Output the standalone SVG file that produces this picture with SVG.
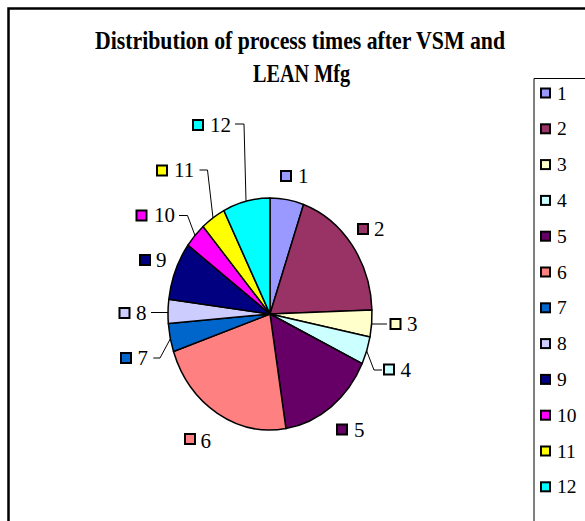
<svg xmlns="http://www.w3.org/2000/svg" width="585" height="521" viewBox="0 0 585 521">
  <style>
    .title { font-family: "Liberation Serif", "Times New Roman", serif; font-weight: bold; font-size: 25px; fill: #000; }
    .lbl { font-family: "Liberation Serif", "Times New Roman", serif; font-size: 21px; fill: #000; }
    .leg { font-family: "Liberation Serif", "Times New Roman", serif; font-size: 19.5px; fill: #000; }
    .slice { stroke: #000; stroke-width: 1.5; stroke-linejoin: round; }
    .key { stroke: #000; stroke-width: 2; }
    .leader { fill: none; stroke: #000; stroke-width: 1; }
    .frame { fill: none; stroke: #000; }
    .c1 { fill: #9999FF; } .c2 { fill: #993366; } .c3 { fill: #FFFFCC; } .c4 { fill: #CCFFFF; }
    .c5 { fill: #660066; } .c6 { fill: #FF8080; } .c7 { fill: #0066CC; } .c8 { fill: #CCCCFF; }
    .c9 { fill: #000080; } .c10 { fill: #FF00FF; } .c11 { fill: #FFFF00; } .c12 { fill: #00FFFF; }
  </style>

  <rect width="585" height="521" fill="#fff"/>

  <!-- chart area border -->
  <path class="frame" d="M8.5,521 V8.5 H585" stroke-width="2.5"/>

  <!-- title -->
  <g id="title">
    <text class="title" x="95" y="49" textLength="410" lengthAdjust="spacingAndGlyphs">Distribution of process times after VSM and</text>
    <text class="title" x="253" y="82" textLength="97" lengthAdjust="spacingAndGlyphs">LEAN Mfg</text>
  </g>

  <!-- pie: centre (270,314), radii 102 x 116 -->
  <g id="pie">
    <path id="slice-1" class="slice c1" d="M270,314 L270,198 A102,116 0 0 1 303.55,204.45 Z"/>
    <path id="slice-2" class="slice c2" d="M270,314 L303.55,204.45 A102,116 0 0 1 371.94,309.95 Z"/>
    <path id="slice-3" class="slice c3" d="M270,314 L371.94,309.95 A102,116 0 0 1 369.99,336.93 Z"/>
    <path id="slice-4" class="slice c4" d="M270,314 L369.99,336.93 A102,116 0 0 1 362.22,363.57 Z"/>
    <path id="slice-5" class="slice c5" d="M270,314 L362.22,363.57 A102,116 0 0 1 285.96,428.57 Z"/>
    <path id="slice-6" class="slice c6" d="M270,314 L285.96,428.57 A102,116 0 0 1 173.50,351.57 Z"/>
    <path id="slice-7" class="slice c7" d="M270,314 L173.50,351.57 A102,116 0 0 1 168.34,323.50 Z"/>
    <path id="slice-8" class="slice c8" d="M270,314 L168.34,323.50 A102,116 0 0 1 168.83,299.26 Z"/>
    <path id="slice-9" class="slice c9" d="M270,314 L168.83,299.26 A102,116 0 0 1 187.92,245.14 Z"/>
    <path id="slice-10" class="slice c10" d="M270,314 L187.92,245.14 A102,116 0 0 1 203.08,226.45 Z"/>
    <path id="slice-11" class="slice c11" d="M270,314 L203.08,226.45 A102,116 0 0 1 223.85,210.55 Z"/>
    <path id="slice-12" class="slice c12" d="M270,314 L223.85,210.55 A102,116 0 0 1 270,198 Z"/>
  </g>

  <!-- leader lines from labels to slices -->
  <g id="leaders">
    <path class="leader" d="M387,324 H371.7"/>
    <path class="leader" d="M382,370 H374 L366.7,351"/>
    <path class="leader" d="M153.3,358 H160 L170.5,338.5"/>
    <path class="leader" d="M151,312.5 H168.3"/>
    <path class="leader" d="M179,215.5 H187.5 L195,235.5"/>
    <path class="leader" d="M199.5,170 H207.5 L213,218"/>
    <path class="leader" d="M235,124 H244 L246,201"/>
  </g>

  <!-- data labels -->
  <g id="label-1"><rect class="key c1" x="281" y="171" width="10" height="10"/><text class="lbl" x="298" y="183">1</text></g>
  <g id="label-2"><rect class="key c2" x="358" y="224" width="10" height="10"/><text class="lbl" x="374" y="236">2</text></g>
  <g id="label-3"><rect class="key c3" x="390.5" y="319" width="10" height="10"/><text class="lbl" x="407" y="331">3</text></g>
  <g id="label-4"><rect class="key c4" x="384" y="364.5" width="10" height="10"/><text class="lbl" x="400.5" y="377">4</text></g>
  <g id="label-5"><rect class="key c5" x="337" y="424.5" width="10" height="10"/><text class="lbl" x="354" y="437">5</text></g>
  <g id="label-6"><rect class="key c6" x="185" y="434" width="10" height="10"/><text class="lbl" x="200.5" y="448">6</text></g>
  <g id="label-7"><rect class="key c7" x="121" y="353" width="10" height="10"/><text class="lbl" x="137.5" y="365">7</text></g>
  <g id="label-8"><rect class="key c8" x="119.5" y="308" width="10" height="10"/><text class="lbl" x="136" y="320">8</text></g>
  <g id="label-9"><rect class="key c9" x="140" y="255" width="10" height="10"/><text class="lbl" x="156" y="267">9</text></g>
  <g id="label-10"><rect class="key c10" x="136.5" y="210.5" width="10" height="10"/><text class="lbl" x="154" y="222">10</text></g>
  <g id="label-11"><rect class="key c11" x="157" y="165.5" width="10" height="10"/><text class="lbl" x="174" y="177">11</text></g>
  <g id="label-12"><rect class="key c12" x="193" y="120" width="10" height="10"/><text class="lbl" x="210" y="131.5">12</text></g>

  <!-- legend -->
  <g id="legend">
    <path class="frame" d="M534,521 V78.5 H585" stroke-width="1"/>
    <g id="legend-1"><rect class="key c1" x="541" y="88.5" width="9" height="9"/><text class="leg" x="557" y="99.5">1</text></g>
    <g id="legend-2"><rect class="key c2" x="541" y="124.3" width="9" height="9"/><text class="leg" x="557" y="135.3">2</text></g>
    <g id="legend-3"><rect class="key c3" x="541" y="160.1" width="9" height="9"/><text class="leg" x="557" y="171.1">3</text></g>
    <g id="legend-4"><rect class="key c4" x="541" y="195.9" width="9" height="9"/><text class="leg" x="557" y="206.9">4</text></g>
    <g id="legend-5"><rect class="key c5" x="541" y="231.7" width="9" height="9"/><text class="leg" x="557" y="242.7">5</text></g>
    <g id="legend-6"><rect class="key c6" x="541" y="267.5" width="9" height="9"/><text class="leg" x="557" y="278.5">6</text></g>
    <g id="legend-7"><rect class="key c7" x="541" y="303.3" width="9" height="9"/><text class="leg" x="557" y="314.3">7</text></g>
    <g id="legend-8"><rect class="key c8" x="541" y="339.1" width="9" height="9"/><text class="leg" x="557" y="350.1">8</text></g>
    <g id="legend-9"><rect class="key c9" x="541" y="374.9" width="9" height="9"/><text class="leg" x="557" y="385.9">9</text></g>
    <g id="legend-10"><rect class="key c10" x="541" y="410.7" width="9" height="9"/><text class="leg" x="557" y="421.7">10</text></g>
    <g id="legend-11"><rect class="key c11" x="541" y="446.5" width="9" height="9"/><text class="leg" x="557" y="457.5">11</text></g>
    <g id="legend-12"><rect class="key c12" x="541" y="482.3" width="9" height="9"/><text class="leg" x="557" y="493.3">12</text></g>
  </g>
</svg>
